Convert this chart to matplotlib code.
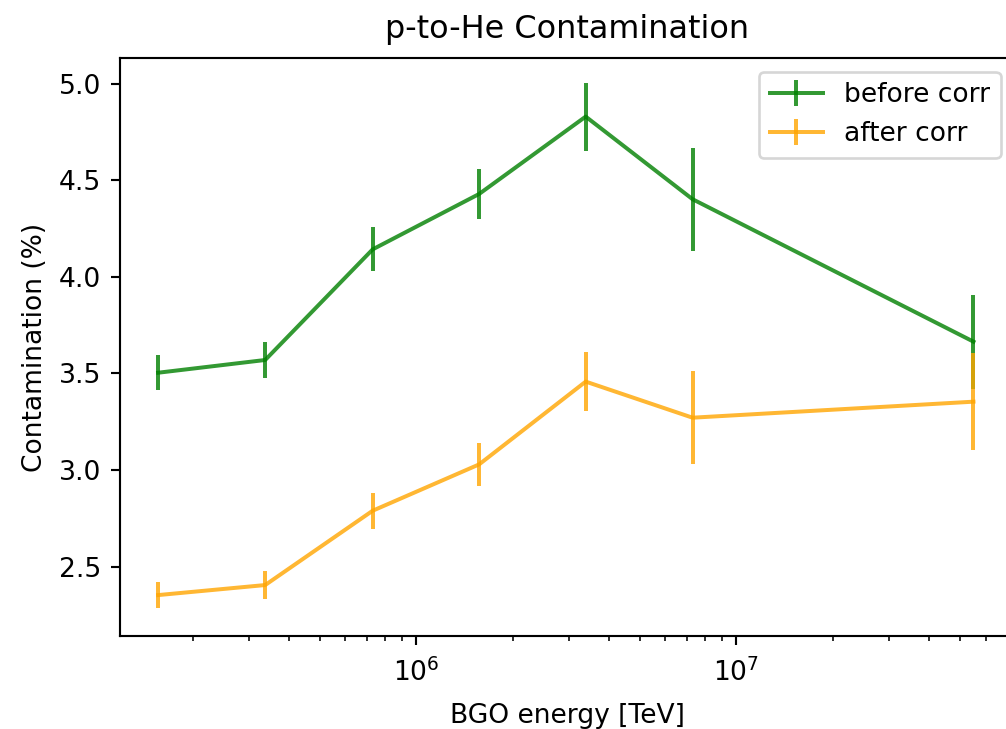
import matplotlib
matplotlib.use("Agg")
import matplotlib.pyplot as plt
import numpy as np

energy = [1.56e5, 3.37e5, 7.30e5, 1.57e6, 3.38e6, 7.29e6, 5.50e7]
before_corr = [3.504, 3.570, 4.143, 4.430, 4.831, 4.403, 3.665]
before_err = [0.092, 0.092, 0.114, 0.130, 0.176, 0.267, 0.244]
after_corr = [2.352, 2.404, 2.789, 3.029, 3.458, 3.271, 3.354]
after_err = [0.066, 0.074, 0.093, 0.110, 0.151, 0.242, 0.250]

dpi = 191
fig = plt.figure(figsize=(1006 / dpi, 729 / dpi), dpi=dpi)
ax = fig.add_axes([120 / 1006, 1 - 636 / 729, (1014 - 120) / 1006, (636 - 58.3) / 729])

ax.errorbar(energy, before_corr, yerr=before_err, color="green", alpha=0.8, label="before corr")
ax.errorbar(energy, after_corr, yerr=after_err, color="orange", alpha=0.8, label="after corr")
ax.set_xscale("log")
ax.set_xlim(10 ** 5.074, 10 ** 7.867)
ax.set_ylim(2.140, 5.133)
ax.tick_params(axis="x", which="major", pad=5)
ax.set_title("p-to-He Contamination", pad=7.5)
ax.set_xlabel("BGO energy [TeV]", labelpad=6)
ax.set_ylabel("Contamination (%)")
ax.legend(loc="upper right")

fig.savefig("out.png", dpi=dpi)
